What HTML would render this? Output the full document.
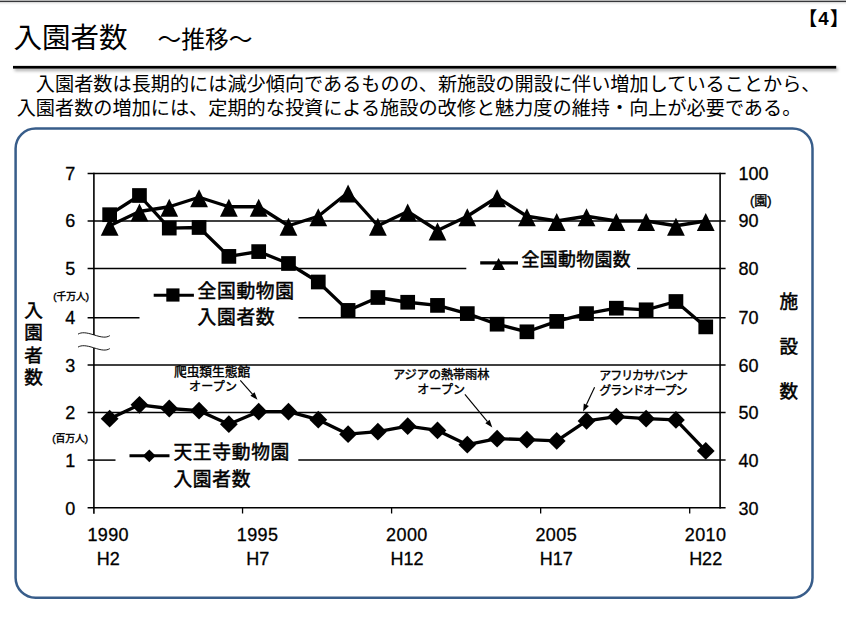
<!DOCTYPE html>
<html lang="ja"><head><meta charset="utf-8"><title>入園者数 ～推移～</title>
<style>
html,body{margin:0;padding:0;background:#fff}
body{width:846px;height:624px;position:relative;overflow:hidden;font-family:"Liberation Sans","Noto Sans CJK JP",sans-serif}
svg{position:absolute;left:0;top:0;display:block}
svg text{font-family:"Liberation Sans","Noto Sans CJK JP",sans-serif;fill:#000}
</style></head><body>
<svg width="846" height="624" viewBox="0 0 846 624" role="img" aria-label="入園者数 推移 chart"><defs><filter id="sh" x="-2%" y="-300%" width="104%" height="700%"><feDropShadow dx="1.6" dy="2.2" stdDeviation="1.6" flood-color="#000" flood-opacity="0.36"/></filter></defs><rect x="0" y="0" width="846" height="1" fill="#b4b4b4"/>
<rect x="0" y="1" width="846" height="1" fill="#36373a"/>
<rect x="0" y="2" width="846" height="1" fill="#dcdcdc"/>
<rect x="0" y="3" width="846" height="1" fill="#f1f1f1"/>
<rect x="0" y="4" width="846" height="1" fill="#fbfbfb"/>
<rect x="13" y="65.9" width="823.2" height="2.7" fill="#000" filter="url(#sh)"/>
<rect x="15.6" y="128.5" width="796.9" height="469.2" rx="20" ry="20" fill="#fff" stroke="#385d8a" stroke-width="2.5"/>
<line x1="87.6" y1="507.7" x2="725.6" y2="507.7" stroke="#000" stroke-width="1.5"/>
<line x1="87.6" y1="460.1" x2="115.5" y2="460.1" stroke="#000" stroke-width="1.5"/>
<line x1="298.3" y1="460.1" x2="725.6" y2="460.1" stroke="#000" stroke-width="1.5"/>
<line x1="87.6" y1="412.6" x2="725.6" y2="412.6" stroke="#000" stroke-width="1.5"/>
<line x1="87.6" y1="365.1" x2="725.6" y2="365.1" stroke="#000" stroke-width="1.5"/>
<line x1="87.6" y1="317.65" x2="139.5" y2="317.65" stroke="#000" stroke-width="1.5"/>
<line x1="298.5" y1="317.65" x2="725.6" y2="317.65" stroke="#000" stroke-width="1.5"/>
<line x1="87.6" y1="268.6" x2="466.3" y2="268.6" stroke="#000" stroke-width="1.5"/>
<line x1="637" y1="268.6" x2="725.6" y2="268.6" stroke="#000" stroke-width="1.5"/>
<line x1="87.6" y1="221" x2="725.6" y2="221" stroke="#000" stroke-width="1.5"/>
<line x1="87.6" y1="173.6" x2="725.6" y2="173.6" stroke="#000" stroke-width="1.5"/>
<line x1="93.9" y1="172.85" x2="93.9" y2="513.7" stroke="#000" stroke-width="1.6"/>
<line x1="720.1" y1="172.85" x2="720.1" y2="508.45" stroke="#000" stroke-width="1.6"/>
<line x1="242.55" y1="507.7" x2="242.55" y2="513.5" stroke="#000" stroke-width="1.3"/>
<line x1="391.6" y1="507.7" x2="391.6" y2="513.5" stroke="#000" stroke-width="1.3"/>
<line x1="540.65" y1="507.7" x2="540.65" y2="513.5" stroke="#000" stroke-width="1.3"/>
<line x1="689.7" y1="507.7" x2="689.7" y2="513.5" stroke="#000" stroke-width="1.3"/>
<rect x="90" y="335" width="8" height="13" fill="#fff"/>
<path d="M78 334.15 C81.5 332.05 86 332.35 93.8 334.85 S106 338.05 109.8 335.65" fill="none" stroke="#000" stroke-width="0.9"/>
<path d="M78 347.1 C81.5 345 86 345.3 93.8 347.8 S106 351 109.8 348.6" fill="none" stroke="#000" stroke-width="0.9"/>
<polyline points="109.65,214.7 139.46,195.5 169.26,228.1 199.06,227.5 228.87,256.4 258.68,251.6 288.48,263.5 318.28,282 348.09,310.4 377.89,297.5 407.7,302.25 437.5,305.4 467.31,313.6 497.12,324.2 526.92,331.8 556.73,321.4 586.53,313.6 616.34,308.2 646.14,309.8 675.94,301.5 705.75,326.9" fill="none" stroke="#000" stroke-width="3.3" stroke-linejoin="round"/>
<g fill="#000"><rect x="102.3" y="207.35" width="14.7" height="14.7"/><rect x="132.11" y="188.15" width="14.7" height="14.7"/><rect x="161.91" y="220.75" width="14.7" height="14.7"/><rect x="191.72" y="220.15" width="14.7" height="14.7"/><rect x="221.52" y="249.05" width="14.7" height="14.7"/><rect x="251.33" y="244.25" width="14.7" height="14.7"/><rect x="281.13" y="256.15" width="14.7" height="14.7"/><rect x="310.93" y="274.65" width="14.7" height="14.7"/><rect x="340.74" y="303.05" width="14.7" height="14.7"/><rect x="370.54" y="290.15" width="14.7" height="14.7"/><rect x="400.35" y="294.9" width="14.7" height="14.7"/><rect x="430.15" y="298.05" width="14.7" height="14.7"/><rect x="459.96" y="306.25" width="14.7" height="14.7"/><rect x="489.76" y="316.85" width="14.7" height="14.7"/><rect x="519.57" y="324.45" width="14.7" height="14.7"/><rect x="549.38" y="314.05" width="14.7" height="14.7"/><rect x="579.18" y="306.25" width="14.7" height="14.7"/><rect x="608.99" y="300.85" width="14.7" height="14.7"/><rect x="638.79" y="302.45" width="14.7" height="14.7"/><rect x="668.59" y="294.15" width="14.7" height="14.7"/><rect x="698.4" y="319.55" width="14.7" height="14.7"/></g>
<polyline points="109.65,225.75 139.46,211.5 169.26,206.75 199.06,197.25 228.87,206.75 258.68,206.75 288.48,225.75 318.28,216.25 348.09,192.5 377.89,225.75 407.7,211.5 437.5,230.5 467.31,216.25 497.12,197.25 526.92,216.25 556.73,221 586.53,216.25 616.34,221 646.14,221 675.94,225.75 705.75,221" fill="none" stroke="#000" stroke-width="3.3" stroke-linejoin="round"/>
<g fill="#000"><path d="M109.65 217.75L118.55 235.75L100.75 235.75Z"/><path d="M139.46 203.5L148.36 221.5L130.56 221.5Z"/><path d="M169.26 198.75L178.16 216.75L160.36 216.75Z"/><path d="M199.06 189.25L207.97 207.25L190.16 207.25Z"/><path d="M228.87 198.75L237.77 216.75L219.97 216.75Z"/><path d="M258.68 198.75L267.57 216.75L249.78 216.75Z"/><path d="M288.48 217.75L297.38 235.75L279.58 235.75Z"/><path d="M318.28 208.25L327.18 226.25L309.38 226.25Z"/><path d="M348.09 184.5L356.99 202.5L339.19 202.5Z"/><path d="M377.89 217.75L386.79 235.75L369 235.75Z"/><path d="M407.7 203.5L416.6 221.5L398.8 221.5Z"/><path d="M437.5 222.5L446.4 240.5L428.61 240.5Z"/><path d="M467.31 208.25L476.21 226.25L458.41 226.25Z"/><path d="M497.12 189.25L506.01 207.25L488.22 207.25Z"/><path d="M526.92 208.25L535.82 226.25L518.02 226.25Z"/><path d="M556.73 213L565.62 231L547.83 231Z"/><path d="M586.53 208.25L595.43 226.25L577.63 226.25Z"/><path d="M616.34 213L625.24 231L607.44 231Z"/><path d="M646.14 213L655.04 231L637.24 231Z"/><path d="M675.94 217.75L684.84 235.75L667.04 235.75Z"/><path d="M705.75 213L714.65 231L696.85 231Z"/></g>
<polyline points="109.65,418.7 139.46,404.8 169.26,408.5 199.06,410.7 228.87,424.15 258.68,411.65 288.48,411.65 318.28,419.65 348.09,434.15 377.89,431.65 407.7,426.15 437.5,430.4 467.31,444.65 497.12,438.65 526.92,439.65 556.73,440.9 586.53,420.9 616.34,416.65 646.14,418.65 675.94,419.9 705.75,450.9" fill="none" stroke="#000" stroke-width="3.3" stroke-linejoin="round"/>
<g fill="#000"><path d="M109.65 409.8L118.55 418.7L109.65 427.6L100.75 418.7Z"/><path d="M139.46 395.9L148.36 404.8L139.46 413.7L130.56 404.8Z"/><path d="M169.26 399.6L178.16 408.5L169.26 417.4L160.36 408.5Z"/><path d="M199.06 401.8L207.97 410.7L199.06 419.6L190.16 410.7Z"/><path d="M228.87 415.25L237.77 424.15L228.87 433.05L219.97 424.15Z"/><path d="M258.68 402.75L267.57 411.65L258.68 420.55L249.78 411.65Z"/><path d="M288.48 402.75L297.38 411.65L288.48 420.55L279.58 411.65Z"/><path d="M318.28 410.75L327.18 419.65L318.28 428.55L309.38 419.65Z"/><path d="M348.09 425.25L356.99 434.15L348.09 443.05L339.19 434.15Z"/><path d="M377.89 422.75L386.79 431.65L377.89 440.55L369 431.65Z"/><path d="M407.7 417.25L416.6 426.15L407.7 435.05L398.8 426.15Z"/><path d="M437.5 421.5L446.4 430.4L437.5 439.3L428.61 430.4Z"/><path d="M467.31 435.75L476.21 444.65L467.31 453.55L458.41 444.65Z"/><path d="M497.12 429.75L506.01 438.65L497.12 447.55L488.22 438.65Z"/><path d="M526.92 430.75L535.82 439.65L526.92 448.55L518.02 439.65Z"/><path d="M556.73 432L565.62 440.9L556.73 449.8L547.83 440.9Z"/><path d="M586.53 412L595.43 420.9L586.53 429.8L577.63 420.9Z"/><path d="M616.34 407.75L625.24 416.65L616.34 425.55L607.44 416.65Z"/><path d="M646.14 409.75L655.04 418.65L646.14 427.55L637.24 418.65Z"/><path d="M675.94 411L684.84 419.9L675.94 428.8L667.04 419.9Z"/><path d="M705.75 442L714.65 450.9L705.75 459.8L696.85 450.9Z"/></g>
<line x1="153.7" y1="295.2" x2="193.9" y2="295.2" stroke="#000" stroke-width="3.1"/>
<g fill="#000"><rect x="166.3" y="288.4" width="13.2" height="13.2"/></g>
<line x1="480.2" y1="262.9" x2="518" y2="262.9" stroke="#000" stroke-width="3.1"/>
<g fill="#000"><path d="M498.6 258L505 269.9L492.2 269.9Z"/></g>
<line x1="129.5" y1="455.8" x2="169.5" y2="455.8" stroke="#000" stroke-width="3.1"/>
<g fill="#000"><path d="M149.3 449.4L155.7 455.8L149.3 462.2L142.9 455.8Z"/></g>
<line x1="240.3" y1="380.3" x2="252.46" y2="394.01" stroke="#000" stroke-width="1.15"/><path d="M257.5 399.7L250.36 395.87L254.55 392.16Z" fill="#000"/>
<line x1="464.9" y1="394.3" x2="487.45" y2="421.55" stroke="#000" stroke-width="1.15"/><path d="M492.3 427.4L485.3 423.33L489.61 419.76Z" fill="#000"/>
<line x1="594.6" y1="387.3" x2="586.35" y2="404.73" stroke="#000" stroke-width="1.15"/><path d="M583.1 411.6L583.82 403.53L588.88 405.93Z" fill="#000"/>
<text x="13.6" y="47.96" font-size="28.5">入園者数</text>
<text x="157.5" y="48.05" font-size="23.75">～推移～</text>
<text x="798.5 818.3 830" y="24.5" font-size="18.7" font-weight="bold">【4】</text>
<text x="35.87" y="91.34" font-size="19.16">入園者数は長期的には減少傾向であるものの、新施設の開設に伴い増加していることから、</text>
<text x="16.71" y="114.94" font-size="19.16">入園者数の増加には、定期的な投資による施設の改修と魅力度の維持・向上が必要である。</text>
<g font-size="18" stroke="#000" stroke-width="0.3">
<text x="65.3" y="515">0</text>
<text x="65.3" y="466.8">1</text>
<text x="65.3" y="419">2</text>
<text x="65.3" y="371.5">3</text>
<text x="65.3" y="324.05">4</text>
<text x="65.3" y="275">5</text>
<text x="65.3" y="227.4">6</text>
<text x="65.3" y="180">7</text>
<text x="738.5" y="515">30</text>
<text x="738.5" y="466.8">40</text>
<text x="738.5" y="419">50</text>
<text x="738.5" y="371.5">60</text>
<text x="738.5" y="324.05">70</text>
<text x="738.5" y="275">80</text>
<text x="738.5" y="227.4">90</text>
<text x="738.5" y="180">100</text>
<text x="87.38" y="541" letter-spacing="0.4">1990</text>
<text x="96.8" y="564.9">H2</text>
<text x="236.73" y="541" letter-spacing="0.4">1995</text>
<text x="246.15" y="564.9">H7</text>
<text x="386.08" y="541" letter-spacing="0.4">2000</text>
<text x="390.43" y="564.9">H12</text>
<text x="535.43" y="541" letter-spacing="0.4">2005</text>
<text x="539.78" y="564.9">H17</text>
<text x="684.78" y="541" letter-spacing="0.4">2010</text>
<text x="689.13" y="564.9">H22</text>
</g>
<g font-size="18.8" letter-spacing="0.65" stroke="#000" stroke-width="0.5">
<text x="197.54" y="297.95">全国動物園</text>
<text x="197.54" y="324.15">入園者数</text>
<text x="173.44" y="459.15">天王寺動物園</text>
<text x="173.44" y="485.75">入園者数</text>
</g>
<text x="521.38" y="266.48" font-size="17.9" letter-spacing="0.4" stroke="#000" stroke-width="0.5">全国動物園数</text>
<text font-size="18.6" stroke="#000" stroke-width="0.5"><tspan x="24.3" y="316.6">入</tspan><tspan x="24.3" y="339.1">園</tspan><tspan x="24.3" y="361.6">者</tspan><tspan x="24.3" y="384.1">数</tspan></text>
<text font-size="18.6" stroke="#000" stroke-width="0.5"><tspan x="779.5" y="307.8">施</tspan><tspan x="779.5" y="353">設</tspan><tspan x="779.5" y="398.2">数</tspan></text>
<text x="53.3" y="299.7" font-size="9.75" stroke="#000" stroke-width="0.4">(千万人)</text>
<text x="52.2" y="441.9" font-size="9.75" stroke="#000" stroke-width="0.4">(百万人)</text>
<text x="749.95" y="205" font-size="13" stroke="#000" stroke-width="0.4">(園)</text>
<g stroke="#000" stroke-width="0.4">
<text x="174" y="376.02" font-size="12.7">爬虫類生態館</text>
<text x="189" y="390.62" font-size="12" textLength="47.9" lengthAdjust="spacing">オープン</text>
<text x="392.9" y="379.22" font-size="12.3" textLength="96.65" lengthAdjust="spacing">アジアの熱帯雨林</text>
<text x="417.2" y="394.02" font-size="12" textLength="47.9" lengthAdjust="spacing">オープン</text>
<text x="599.3" y="380.02" font-size="12" textLength="88.7" lengthAdjust="spacing">アフリカサバンナ</text>
<text x="599.3" y="394.82" font-size="12" textLength="88.3" lengthAdjust="spacing">グランドオープン</text>
</g>
</svg>
</body></html>
